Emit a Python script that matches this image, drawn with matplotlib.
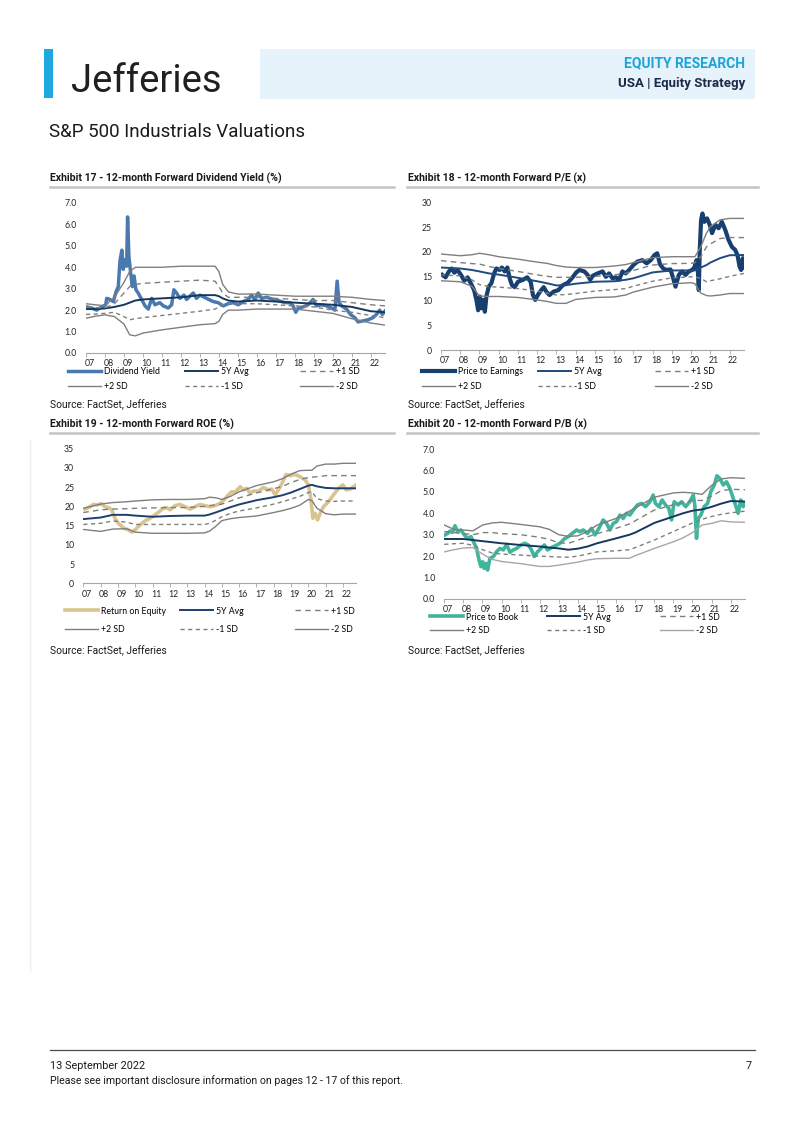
import numpy as np
import matplotlib
matplotlib.use('Agg')
import matplotlib.pyplot as plt
import matplotlib.transforms as mtransforms
from matplotlib.patches import Rectangle
from matplotlib.lines import Line2D

W, H = 802, 1133
PAGE = ['Roboto', 'DejaVu Sans']
CHART = ['Lato', 'DejaVu Sans']

YEAR_TICKS = list(range(2007, 2023))
YEAR_LABELS = ['%02d' % (y - 2000) for y in YEAR_TICKS]
LEGEND_NAMES = ['5Y Avg', '+1 SD', '+2 SD', '-1 SD', '-2 SD']

# Exhibit 17 - dividend yield
DY_SERIES = [
    (2007.04, 2.15), (2007.30, 2.10), (2007.56, 2.00), (2007.82, 2.15), (2008.04, 2.25),
    (2008.09, 2.55), (2008.26, 2.50), (2008.44, 2.40), (2008.58, 2.85), (2008.70, 3.10),
    (2008.79, 4.30), (2008.89, 4.80), (2008.96, 3.90), (2009.05, 4.35), (2009.14, 4.05),
    (2009.19, 6.35), (2009.26, 4.50), (2009.35, 3.75), (2009.44, 3.10), (2009.53, 3.60),
    (2009.63, 2.95), (2009.75, 2.80), (2009.93, 2.50), (2010.11, 2.20), (2010.28, 2.05),
    (2010.46, 2.55), (2010.63, 2.25), (2010.89, 2.35), (2011.07, 2.20), (2011.33, 2.10),
    (2011.51, 2.25), (2011.63, 2.95), (2011.77, 2.80), (2011.95, 2.55), (2012.16, 2.70),
    (2012.30, 2.50), (2012.47, 2.65), (2012.65, 2.80), (2012.82, 2.55), (2013.00, 2.70),
    (2013.35, 2.55), (2013.70, 2.40), (2013.96, 2.35), (2014.23, 2.20), (2014.49, 2.30),
    (2014.75, 2.35), (2015.02, 2.25), (2015.28, 2.40), (2015.54, 2.50), (2015.72, 2.70),
    (2015.89, 2.50), (2016.07, 2.80), (2016.25, 2.55), (2016.51, 2.60), (2016.86, 2.50),
    (2017.12, 2.45), (2017.47, 2.35), (2017.74, 2.35), (2017.91, 2.20), (2018.05, 1.90),
    (2018.18, 2.10), (2018.44, 2.15), (2018.70, 2.25), (2018.96, 2.50), (2019.14, 2.20),
    (2019.40, 2.25), (2019.67, 2.20), (2019.93, 2.10), (2020.11, 2.00), (2020.23, 3.35),
    (2020.33, 2.35), (2020.46, 2.20), (2020.72, 2.05), (2020.93, 1.80), (2021.16, 1.65),
    (2021.33, 1.45), (2021.60, 1.50), (2021.86, 1.55), (2022.12, 1.65), (2022.30, 1.80),
    (2022.47, 2.00), (2022.61, 1.80), (2022.74, 1.95),
]
DY_BAND_YEARS = [2007, 2007.5, 2008, 2008.5, 2009, 2009.3, 2009.6, 2010, 2011, 2012, 2013, 2013.8,
                 2014.0, 2014.2, 2014.5, 2015, 2016, 2017, 2018, 2019, 2020, 2021, 2022, 2022.75]
DY_AVG = [2.05, 2.05, 2.08, 2.15, 2.25, 2.35, 2.45, 2.5, 2.55, 2.6, 2.7, 2.7,
          2.65, 2.55, 2.45, 2.4, 2.45, 2.4, 2.35, 2.3, 2.25, 2.15, 1.95, 1.9]
DY_P1 = [2.15, 2.12, 2.1, 2.3, 2.8, 3.1, 3.2, 3.25, 3.3, 3.35, 3.4, 3.35,
         3.1, 2.8, 2.6, 2.6, 2.6, 2.55, 2.5, 2.45, 2.45, 2.35, 2.25, 2.2]
DY_P2 = [2.3, 2.25, 2.2, 2.6, 3.3, 3.8, 4.0, 4.0, 4.0, 4.05, 4.05, 4.05,
         3.8, 3.2, 2.85, 2.75, 2.75, 2.7, 2.65, 2.65, 2.65, 2.6, 2.5, 2.45]
DY_M1 = [1.8, 1.82, 1.85, 1.9, 1.7, 1.55, 1.6, 1.65, 1.75, 1.85, 1.95, 2.05,
         2.15, 2.25, 2.3, 2.3, 2.3, 2.25, 2.2, 2.15, 2.0, 1.9, 1.75, 1.65]
DY_M2 = [1.62, 1.72, 1.78, 1.7, 1.35, 0.85, 0.8, 0.93, 1.08, 1.2, 1.32, 1.37,
         1.48, 1.8, 2.0, 2.0, 2.05, 2.05, 2.05, 1.95, 1.85, 1.6, 1.4, 1.3]

# Exhibit 18 - P/E
PE_SERIES = [
    (2007.07, 15.3), (2007.24, 14.8), (2007.41, 16.0), (2007.55, 16.6), (2007.69, 15.75),
    (2007.86, 16.3), (2008.07, 15.1), (2008.21, 14.1), (2008.38, 14.8), (2008.55, 13.6),
    (2008.72, 12.2), (2008.84, 10.2), (2008.93, 8.1), (2009.02, 10.9), (2009.10, 8.5),
    (2009.19, 10.2), (2009.28, 7.8), (2009.36, 10.9), (2009.48, 12.9), (2009.62, 13.6),
    (2009.76, 15.6), (2009.88, 16.6), (2010.05, 16.3), (2010.17, 16.8), (2010.31, 16.0),
    (2010.45, 16.8), (2010.57, 14.6), (2010.69, 13.2), (2010.83, 12.8), (2011.00, 13.9),
    (2011.26, 14.3), (2011.48, 14.8), (2011.66, 13.9), (2011.78, 11.2), (2011.90, 10.2),
    (2012.03, 11.2), (2012.21, 12.2), (2012.34, 12.8), (2012.47, 11.9), (2012.64, 11.2),
    (2012.86, 11.9), (2013.10, 12.2), (2013.33, 13.2), (2013.59, 13.7), (2013.84, 14.8),
    (2014.02, 15.75), (2014.19, 16.3), (2014.45, 16.0), (2014.62, 15.3), (2014.76, 14.3),
    (2014.88, 15.1), (2015.14, 15.6), (2015.40, 16.0), (2015.57, 14.9), (2015.74, 15.6),
    (2015.91, 14.6), (2016.09, 14.8), (2016.26, 14.3), (2016.43, 16.0), (2016.60, 15.6),
    (2016.78, 16.3), (2017.00, 17.3), (2017.21, 18.0), (2017.47, 18.3), (2017.69, 17.65),
    (2017.90, 18.3), (2018.10, 19.35), (2018.24, 19.7), (2018.38, 17.5), (2018.55, 16.6),
    (2018.72, 16.3), (2018.93, 16.4), (2019.07, 14.6), (2019.19, 12.9), (2019.36, 15.3),
    (2019.53, 16.0), (2019.71, 15.3), (2019.88, 16.0), (2020.05, 16.3), (2020.17, 16.8),
    (2020.28, 18.3), (2020.34, 17.3), (2020.40, 12.2), (2020.45, 20.4), (2020.52, 26.5),
    (2020.59, 27.8), (2020.69, 26.1), (2020.83, 26.8), (2020.97, 25.5), (2021.09, 23.8),
    (2021.26, 25.5), (2021.43, 24.8), (2021.60, 26.1), (2021.78, 24.4), (2021.95, 22.4),
    (2022.12, 21.0), (2022.29, 20.4), (2022.41, 19.35), (2022.52, 17.0), (2022.60, 16.3),
    (2022.69, 18.7), (2022.75, 16.8),
]
PE_BAND_YEARS = [2007, 2008, 2008.6, 2009, 2009.5, 2010, 2011, 2012, 2012.5, 2013, 2013.5, 2014, 2015,
                 2016, 2016.6, 2017, 2018, 2019, 2020, 2020.2, 2020.5, 2020.8, 2021, 2021.5, 2022, 2022.75]
PE_AVG = [16.8, 16.6, 16.3, 16.0, 15.6, 15.35, 14.7, 14.0, 13.6, 13.15, 13.2, 13.5, 13.9,
          14.0, 14.3, 14.6, 15.8, 16.2, 16.2, 16.2, 16.8, 17.3, 17.8, 18.7, 19.3, 19.35]
PE_P1 = [18.2, 17.8, 17.6, 17.5, 17.0, 16.6, 16.0, 15.3, 15.0, 14.8, 14.8, 14.8, 15.0,
         15.3, 15.6, 16.2, 17.3, 17.6, 17.65, 17.8, 19.0, 21.0, 21.6, 22.7, 22.9, 22.9]
PE_P2 = [19.55, 19.2, 19.4, 19.7, 19.4, 19.0, 18.5, 17.9, 17.65, 17.2, 16.9, 16.8, 16.8,
         17.1, 17.4, 17.8, 18.8, 19.0, 19.0, 19.0, 21.0, 23.8, 25.1, 26.5, 26.8, 26.8]
PE_M1 = [15.3, 15.1, 14.3, 13.3, 12.9, 12.8, 12.5, 12.0, 11.6, 11.2, 11.3, 11.5, 12.0,
         12.3, 12.5, 13.0, 14.0, 14.7, 14.9, 14.9, 14.6, 13.9, 14.1, 14.5, 15.0, 15.6]
PE_M2 = [14.1, 13.9, 13.0, 11.0, 10.9, 10.9, 10.7, 10.2, 9.9, 9.5, 9.5, 10.3, 10.7,
         10.8, 11.2, 11.8, 12.8, 13.5, 13.7, 13.5, 11.6, 11.1, 11.0, 11.2, 11.5, 11.5]

# Exhibit 19 - ROE
ROE_SERIES = [
    (2007.10, 19.3), (2007.39, 19.9), (2007.58, 20.5), (2007.81, 20.4), (2008.06, 20.7),
    (2008.25, 19.9), (2008.45, 19.7), (2008.64, 19.1), (2008.83, 16.9), (2008.97, 15.9),
    (2009.12, 15.2), (2009.35, 14.3), (2009.60, 13.9), (2009.79, 13.3), (2009.99, 13.9),
    (2010.28, 15.2), (2010.56, 16.2), (2010.85, 16.9), (2011.14, 17.8), (2011.43, 18.8),
    (2011.62, 19.5), (2011.82, 19.7), (2012.01, 19.1), (2012.30, 20.2), (2012.59, 20.5),
    (2012.88, 19.9), (2013.17, 19.3), (2013.45, 19.9), (2013.74, 20.5), (2014.03, 20.2),
    (2014.32, 19.9), (2014.61, 20.2), (2014.90, 20.8), (2015.13, 21.7), (2015.38, 23.0),
    (2015.57, 23.8), (2015.77, 23.7), (2016.06, 25.1), (2016.25, 24.3), (2016.44, 24.7),
    (2016.63, 23.4), (2016.83, 24.0), (2017.12, 24.0), (2017.40, 24.9), (2017.69, 24.3),
    (2017.89, 24.5), (2018.08, 23.0), (2018.27, 24.3), (2018.52, 26.4), (2018.71, 28.3),
    (2018.95, 28.0), (2019.24, 28.3), (2019.52, 27.7), (2019.81, 26.9), (2020.00, 25.6),
    (2020.14, 22.1), (2020.26, 16.9), (2020.39, 18.2), (2020.53, 16.5), (2020.68, 18.2),
    (2020.87, 19.9), (2021.16, 21.2), (2021.45, 23.0), (2021.74, 24.7), (2021.99, 25.6),
    (2022.18, 24.3), (2022.41, 24.5), (2022.61, 25.1), (2022.75, 25.6),
]
ROE_BAND_YEARS = [2007, 2008, 2008.7, 2009.5, 2010, 2011, 2012, 2013, 2014, 2014.3, 2014.7, 2015, 2015.5,
                  2016, 2017, 2018, 2018.5, 2019, 2019.5, 2020, 2020.2, 2020.5, 2021, 2021.5, 2022, 2022.75]
ROE_AVG = [16.7, 17.1, 17.8, 17.8, 17.6, 17.3, 17.5, 17.6, 17.6, 17.9, 18.5, 19.0, 19.8,
           20.5, 21.6, 22.4, 22.9, 23.6, 24.5, 25.4, 25.6, 25.2, 24.8, 24.7, 24.7, 24.7]
ROE_P1 = [18.4, 19.1, 19.3, 19.4, 19.5, 19.6, 19.7, 19.7, 20.0, 20.2, 20.4, 20.6, 21.4,
          22.2, 23.5, 24.6, 25.2, 26.2, 27.0, 27.5, 27.6, 27.7, 28.0, 28.0, 28.0, 28.0]
ROE_P2 = [19.5, 20.6, 21.0, 21.2, 21.4, 21.7, 21.8, 21.8, 22.0, 22.4, 22.2, 21.8, 22.6,
          23.8, 25.4, 26.4, 27.2, 28.4, 29.3, 29.4, 29.4, 30.5, 31.0, 31.0, 31.2, 31.2]
ROE_M1 = [15.3, 15.6, 16.2, 15.9, 15.3, 15.3, 15.3, 15.3, 15.3, 15.6, 16.5, 17.3, 18.2,
          18.8, 19.6, 20.6, 21.2, 21.9, 22.6, 23.6, 23.8, 22.0, 21.4, 21.3, 21.4, 21.4]
ROE_M2 = [14.0, 13.5, 14.1, 14.2, 13.3, 13.0, 13.0, 13.0, 13.1, 13.6, 15.0, 16.3, 16.8,
          17.1, 17.5, 18.4, 18.9, 19.5, 20.3, 21.8, 21.5, 19.5, 18.1, 17.8, 18.0, 18.0]

# Exhibit 20 - P/B
PB_SERIES = [
    (2007.03, 2.99), (2007.17, 3.06), (2007.30, 3.17), (2007.42, 3.11), (2007.56, 3.42),
    (2007.70, 3.14), (2007.87, 3.22), (2008.05, 2.99), (2008.22, 2.83), (2008.40, 2.91),
    (2008.57, 2.60), (2008.69, 2.36), (2008.82, 1.82), (2008.92, 1.51), (2009.01, 1.74),
    (2009.09, 1.43), (2009.18, 1.66), (2009.27, 1.35), (2009.39, 1.90), (2009.57, 1.98),
    (2009.74, 2.21), (2009.91, 2.36), (2010.09, 2.29), (2010.26, 2.55), (2010.44, 2.18),
    (2010.61, 2.29), (2010.79, 2.36), (2011.01, 2.52), (2011.22, 2.60), (2011.40, 2.52),
    (2011.57, 2.29), (2011.71, 1.98), (2011.89, 2.21), (2012.06, 2.36), (2012.24, 2.52),
    (2012.41, 2.29), (2012.62, 2.40), (2012.83, 2.49), (2013.06, 2.60), (2013.28, 2.80),
    (2013.49, 2.91), (2013.70, 3.06), (2013.93, 3.22), (2014.10, 3.14), (2014.28, 3.22),
    (2014.50, 3.06), (2014.71, 3.30), (2014.89, 2.99), (2015.10, 3.30), (2015.32, 3.69),
    (2015.50, 3.53), (2015.67, 3.22), (2015.85, 3.53), (2016.02, 3.61), (2016.20, 3.92),
    (2016.37, 3.76), (2016.55, 4.00), (2016.72, 3.92), (2016.90, 4.15), (2017.12, 4.39),
    (2017.33, 4.46), (2017.54, 4.31), (2017.77, 4.54), (2017.94, 4.85), (2018.06, 4.46),
    (2018.24, 4.31), (2018.41, 4.62), (2018.59, 4.39), (2018.76, 4.23), (2018.90, 3.69),
    (2019.04, 4.54), (2019.25, 4.39), (2019.43, 4.54), (2019.64, 4.31), (2019.86, 4.54),
    (2020.04, 4.85), (2020.12, 4.39), (2020.21, 2.83), (2020.30, 3.76), (2020.44, 3.92),
    (2020.61, 4.31), (2020.79, 4.46), (2020.96, 5.01), (2021.14, 5.32), (2021.28, 5.75),
    (2021.43, 5.63), (2021.61, 5.32), (2021.78, 5.47), (2021.96, 5.16), (2022.13, 4.70),
    (2022.25, 4.39), (2022.39, 4.00), (2022.53, 4.62), (2022.65, 4.31), (2022.74, 4.46),
]
PB_BAND_YEARS = [2007, 2007.5, 2008, 2008.5, 2009, 2009.5, 2010, 2011, 2012, 2012.5, 2013, 2013.5, 2014,
                 2014.5, 2015, 2016, 2016.7, 2017, 2018, 2019, 2019.5, 2020, 2020.5, 2021, 2021.5, 2022, 2022.75]
PB_AVG = [2.8, 2.8, 2.8, 2.75, 2.7, 2.65, 2.6, 2.52, 2.45, 2.4, 2.36, 2.3, 2.35, 2.45,
          2.6, 2.83, 3.0, 3.1, 3.55, 3.85, 4.0, 4.12, 4.18, 4.3, 4.45, 4.57, 4.55]
PB_P1 = [3.15, 3.1, 3.05, 3.0, 3.1, 3.1, 3.05, 3.0, 2.88, 2.78, 2.62, 2.6, 2.75, 2.9,
         3.05, 3.3, 3.5, 3.65, 4.15, 4.4, 4.5, 4.6, 4.6, 4.8, 5.05, 5.12, 5.1]
PB_P2 = [3.45, 3.25, 3.22, 3.18, 3.45, 3.55, 3.58, 3.48, 3.37, 3.25, 3.0, 2.92, 2.95, 3.15,
         3.45, 3.76, 4.1, 4.25, 4.75, 4.95, 4.98, 4.95, 4.88, 5.3, 5.6, 5.66, 5.63]
PB_M1 = [2.55, 2.58, 2.6, 2.5, 2.3, 2.15, 2.1, 2.05, 2.0, 1.98, 1.96, 1.95, 2.0, 2.1,
         2.2, 2.25, 2.3, 2.4, 2.75, 3.15, 3.35, 3.55, 3.72, 3.85, 3.95, 4.02, 4.1]
PB_M2 = [2.2, 2.3, 2.38, 2.4, 2.1, 1.85, 1.75, 1.65, 1.52, 1.52, 1.58, 1.65, 1.72, 1.82,
         1.88, 1.9, 1.9, 2.02, 2.36, 2.67, 2.85, 3.1, 3.45, 3.53, 3.65, 3.6, 3.58]


def fx(px):
    return px / W


def fy(py):
    return 1 - py / H


fig = plt.figure(figsize=(W / 100, H / 100), dpi=100)
fig.patch.set_facecolor('white')


def make_chart(left, top, right, bottom, ymax, ystep, yfmt):
    ax = fig.add_axes([fx(left), fy(bottom), (right - left) / W, (bottom - top) / H])
    ax.set_xlim(2007, 2022.75)
    ax.set_ylim(0, ymax)
    yt = np.arange(0, ymax + ystep / 2, ystep)
    ax.set_yticks(yt)
    ax.set_yticklabels([yfmt % v for v in yt], family=CHART, fontsize=6.3, color='#262626')
    ax.set_xticks(YEAR_TICKS)
    ax.set_xticklabels(YEAR_LABELS, family=CHART, fontsize=6.3, color='#262626')
    for s in ['top', 'right', 'left']:
        ax.spines[s].set_visible(False)
    ax.spines['bottom'].set_color('#a6a6a6')
    ax.spines['bottom'].set_linewidth(0.8)
    ax.tick_params(axis='x', length=3, width=0.6, color='#a6a6a6', pad=1.5)
    ax.tick_params(axis='y', length=0, pad=6.5)
    shift = mtransforms.ScaledTranslation(3.5 / 100, 0, fig.dpi_scale_trans)
    for lbl in ax.get_xticklabels():
        lbl.set_transform(lbl.get_transform() + shift)
    ax.patch.set_alpha(0)
    return ax


def draw_chart(ax, series, main_color, main_lw, main_name, band_years, bands, avg_color, m2_color='#7f7f7f'):
    xs = [p[0] for p in series]
    ys = [p[1] for p in series]
    avg, p1, p2, m1, m2 = bands
    main, = ax.plot(xs, ys, color=main_color, lw=main_lw, solid_joinstyle='round', zorder=2)
    l_avg, = ax.plot(band_years, avg, color=avg_color, lw=1.4, zorder=3)
    l_p1, = ax.plot(band_years, p1, color='#7f7f7f', lw=1.0, dashes=(4, 3), zorder=3)
    l_p2, = ax.plot(band_years, p2, color='#7f7f7f', lw=1.0, zorder=3)
    l_m1, = ax.plot(band_years, m1, color='#7f7f7f', lw=1.0, dashes=(3, 2.5), zorder=3)
    l_m2, = ax.plot(band_years, m2, color=m2_color, lw=1.0, zorder=3)
    handles = [main, l_avg, l_p1, l_p2, l_m1, l_m2]
    labels = [main_name] + LEGEND_NAMES
    return handles, labels


def legend_block(handles, labels, cols_x, row_y, pitch):
    fs = 6.3
    fs_px = fs * 100 / 72
    order = [(0, 3), (1, 4), (2, 5)]
    for (a, b), x in zip(order, cols_x):
        fig.legend([handles[a], handles[b]], [labels[a], labels[b]],
                   loc='upper left', bbox_to_anchor=(fx(x), fy(row_y - 5.5)),
                   frameon=False, borderpad=0, borderaxespad=0,
                   handlelength=33 / fs_px, handletextpad=0.35,
                   labelspacing=(pitch - 10.5) / fs_px,
                   prop={'family': CHART, 'size': fs})


# ---------------- header
fig.patches.append(Rectangle((fx(44), fy(98)), 9 / W, 49 / H, transform=fig.transFigure,
                             facecolor='#1ea8e0', edgecolor='none'))
fig.patches.append(Rectangle((fx(260), fy(99)), 495 / W, 50 / H, transform=fig.transFigure,
                             facecolor='#e6f3fa', edgecolor='none'))
fig.text(fx(71), fy(92), 'Jefferies', family=PAGE, fontsize=27.5, color='#231f20', va='baseline')
fig.text(fx(745), fy(63), 'EQUITY RESEARCH', family=PAGE, fontsize=10, weight='bold',
         color='#1ba4da', ha='right', va='center')
fig.text(fx(745), fy(84), 'USA | Equity Strategy', family=PAGE, fontsize=9.5, weight='bold',
         color='#1b2a4a', ha='right', va='center')
fig.text(fx(49), fy(132), 'S&P 500 Industrials Valuations', family=PAGE, fontsize=13.5,
         color='#1a1a1a', va='center')

# exhibit titles, rules and sources
TITLES = [
    (50, 178, 'Exhibit 17 - 12-month Forward Dividend Yield (%)'),
    (408, 178, 'Exhibit 18 - 12-month Forward P/E (x)'),
    (50, 424, 'Exhibit 19 - 12-month Forward ROE (%)'),
    (408, 424, 'Exhibit 20 - 12-month Forward P/B (x)'),
]
for x, y, t in TITLES:
    fig.text(fx(x), fy(y), t, family=PAGE, fontsize=7.6, weight='bold', color='#1a1a1a', va='center')
for x0, x1, y in [(50, 394, 186.5), (407, 758, 186.5), (50, 394, 432.5), (407, 758, 432.5)]:
    fig.add_artist(Line2D([fx(x0), fx(x1)], [fy(y), fy(y)], transform=fig.transFigure,
                          color='#c4c4c4', lw=1.8))
for x, y in [(50, 405), (408, 405), (50, 651), (408, 651)]:
    fig.text(fx(x), fy(y), 'Source: FactSet, Jefferies', family=PAGE, fontsize=7.4,
             color='#1a1a1a', va='center')

# faint margin line
fig.add_artist(Line2D([fx(30), fx(30)], [fy(440), fy(970)], transform=fig.transFigure,
                      color='#efefef', lw=1.0))

# ---------------- charts
ax17 = make_chart(86, 203, 385, 353, 7, 1, '%.1f')
h, l = draw_chart(ax17, DY_SERIES, '#4a79af', 2.5, 'Dividend Yield', DY_BAND_YEARS,
                  [DY_AVG, DY_P1, DY_P2, DY_M1, DY_M2], '#17375e')
legend_block(h, l, [68, 185, 300], 373, 16)

ax18 = make_chart(441, 202.7, 744, 350, 30, 5, '%d')
h, l = draw_chart(ax18, PE_SERIES, '#173f6f', 3.0, 'Price to Earnings', PE_BAND_YEARS,
                  [PE_AVG, PE_P1, PE_P2, PE_M1, PE_M2], '#1f4a80')
legend_block(h, l, [422, 538, 655], 373, 16)

ax19 = make_chart(83.3, 448.7, 356, 583.3, 35, 5, '%d')
h, l = draw_chart(ax19, ROE_SERIES, '#d9c48f', 2.6, 'Return on Equity', ROE_BAND_YEARS,
                  [ROE_AVG, ROE_P1, ROE_P2, ROE_M1, ROE_M2], '#1f3f6e')
legend_block(h, l, [65, 180, 295], 612, 20)

ax20 = make_chart(444.3, 449, 745, 599, 7, 1, '%.1f')
h, l = draw_chart(ax20, PB_SERIES, '#40b59c', 2.6, 'Price to Book', PB_BAND_YEARS,
                  [PB_AVG, PB_P1, PB_P2, PB_M1, PB_M2], '#17375e', m2_color='#a6a6a6')
legend_block(h, l, [430, 547, 660], 618, 15)

# ---------------- footer
fig.add_artist(Line2D([fx(50), fx(755)], [fy(1050), fy(1050)], transform=fig.transFigure,
                      color='#4d4d4d', lw=0.9))
fig.text(fx(50), fy(1066), '13 September 2022', family=PAGE, fontsize=7.8, color='#1a1a1a', va='center')
fig.text(fx(752), fy(1066), '7', family=PAGE, fontsize=7.8, color='#1a1a1a', va='center', ha='right')
fig.text(fx(50), fy(1081), 'Please see important disclosure information on pages 12 - 17 of this report.',
         family=PAGE, fontsize=7.6, color='#1a1a1a', va='center')

fig.savefig('out.png', dpi=100, facecolor='white')
